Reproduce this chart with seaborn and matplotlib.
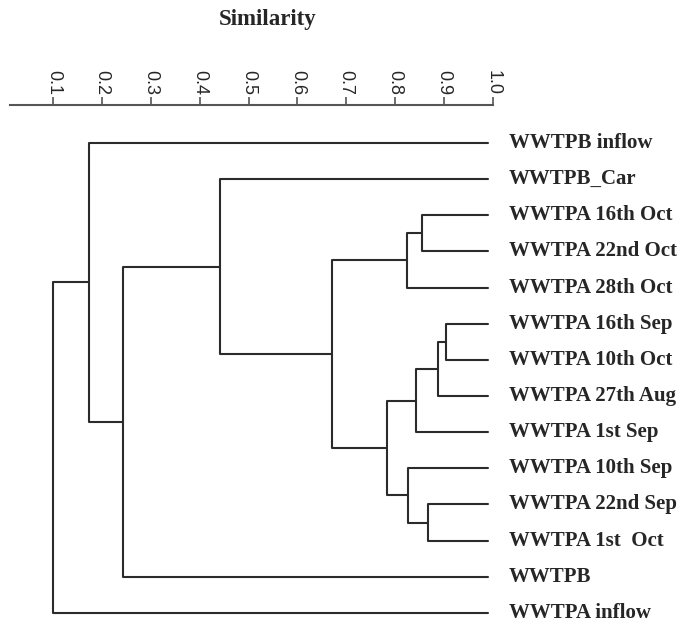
import matplotlib
matplotlib.use("Agg")
import matplotlib.pyplot as plt
import numpy as np
import pandas as pd
import seaborn as sns

# Leaves, top to bottom
leaf_labels = [
    "WWTPB inflow",
    "WWTPB_Car",
    "WWTPA 16th Oct",
    "WWTPA 22nd Oct",
    "WWTPA 28th Oct",
    "WWTPA 16th Sep",
    "WWTPA 10th Oct",
    "WWTPA 27th Aug",
    "WWTPA 1st Sep",
    "WWTPA 10th Sep",
    "WWTPA 22nd Sep",
    "WWTPA 1st  Oct",
    "WWTPB",
    "WWTPA inflow",
]

# Merges (linkage style: node id = n_leaves + merge index)
merge_a = [5, 14, 2, 10, 15, 9, 16, 18, 20, 1, 23, 0, 25]
merge_b = [6, 7, 3, 11, 8, 17, 4, 19, 21, 22, 12, 24, 13]
merge_sim = [0.904, 0.887, 0.856, 0.867, 0.843, 0.826, 0.824,
             0.783, 0.670, 0.442, 0.243, 0.173, 0.100]

sim_ticks = [0.1, 0.2, 0.3, 0.4, 0.5, 0.6, 0.7, 0.8, 0.9, 1.0]
leaf_end = 0.99

sns.set_theme(style="white")
plt.rcParams["font.family"] = ["Liberation Sans", "DejaVu Sans"]

# Build branch segments
n = len(leaf_labels)
node_x = {i: leaf_end for i in range(n)}
node_y = {i: float(i) for i in range(n)}
rows = []
for k, (a, b, s) in enumerate(zip(merge_a, merge_b, merge_sim)):
    pts = [(node_x[a], node_y[a]), (s, node_y[a]), (s, node_y[b]), (node_x[b], node_y[b])]
    for j, (px, py) in enumerate(pts):
        rows.append({"seg": k, "order": j, "x": px, "y": py})
    node_x[n + k] = s
    node_y[n + k] = (node_y[a] + node_y[b]) / 2
df = pd.DataFrame(rows)

fig = plt.figure(figsize=(6.94, 6.35), dpi=100)
ax = fig.add_axes([10 / 694, 0, 482.7 / 694, 1 - 105 / 635])

sns.lineplot(data=df, x="x", y="y", units="seg", estimator=None, sort=False,
             color="#2b2b2b", linewidth=1.5, ax=ax, legend=False)

ax.set_xlim(0.0113, 1.0)
ax.set_ylim(13.61, -1.05)

for i, lab in enumerate(leaf_labels):
    ax.text(1.033, i, lab, ha="left", va="center", fontsize=15,
            fontweight="bold", family=["Liberation Serif"], clip_on=False)

# Top axis
for side in ["left", "right", "bottom"]:
    ax.spines[side].set_visible(False)
ax.spines["top"].set_color("#555555")
ax.spines["top"].set_linewidth(1.5)
ax.xaxis.tick_top()
ax.set_xticks(sim_ticks)
ax.set_xticklabels([f"{t:.1f}" for t in sim_ticks], rotation=-90, fontsize=13)
ax.tick_params(axis="x", direction="out", length=6, width=1.2, color="#555555", pad=1)
ax.set_yticks([])
ax.set_xlabel("")
ax.set_ylabel("")

fig.text(268 / 694, 1 - 20 / 635, "Similarity", ha="center", va="center",
         fontsize=16.5, fontweight="bold", family=["Liberation Serif"])

fig.savefig("out.png", dpi=100)
